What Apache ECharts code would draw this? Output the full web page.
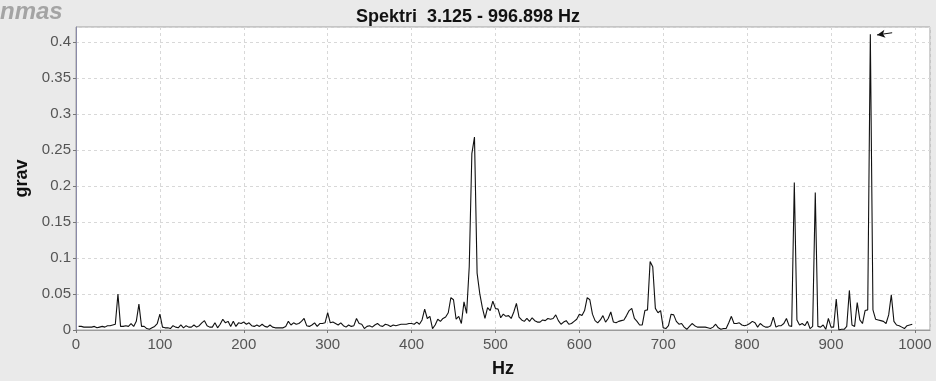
<!DOCTYPE html>
<html>
<head>
<meta charset="utf-8">
<script src="https://cdn.jsdelivr.net/npm/echarts@6/dist/echarts.min.js"></script>
<style>
  html, body { margin: 0; padding: 0; background: #eaeaea; }
  #myChart { width: 936px; height: 381px; }
</style>
</head>
<body>
<div id="myChart"></div>
<script>
// spectrum, 3.125 Hz step
const step = 3.125;
const band0to250 = [
  0.005, 0.005, 0.004, 0.004, 0.004, 0.004, 0.005, 0.003, 0.004, 0.005, 0.004, 0.006, 0.006, 0.007, 0.008, 0.050,
  0.005, 0.005, 0.006, 0.005, 0.009, 0.005, 0.012, 0.036, 0.005, 0.005, 0.002, 0.001, 0.003, 0.005, 0.009, 0.022,
  0.004, 0.003, 0.003, 0.002, 0.006, 0.004, 0.003, 0.007, 0.003, 0.006, 0.004, 0.004, 0.007, 0.004, 0.006, 0.010,
  0.013, 0.006, 0.004, 0.004, 0.010, 0.003, 0.008, 0.015, 0.010, 0.012, 0.005, 0.012, 0.005, 0.010, 0.009, 0.011,
  0.008, 0.010, 0.006, 0.005, 0.007, 0.005, 0.008, 0.005, 0.004, 0.007, 0.004, 0.003, 0.003, 0.003, 0.003, 0.005
];
const band250to500 = [
  0.012, 0.007, 0.010, 0.008, 0.009, 0.012, 0.016, 0.006, 0.005, 0.007, 0.010, 0.005, 0.009, 0.009, 0.010, 0.024,
  0.010, 0.011, 0.009, 0.007, 0.010, 0.006, 0.004, 0.007, 0.005, 0.006, 0.016, 0.009, 0.008, 0.002, 0.005, 0.006,
  0.004, 0.007, 0.009, 0.006, 0.005, 0.008, 0.007, 0.005, 0.007, 0.006, 0.007, 0.008, 0.008, 0.008, 0.009, 0.009,
  0.008, 0.011, 0.008, 0.014, 0.029, 0.016, 0.019, 0.002, 0.007, 0.015, 0.012, 0.016, 0.018, 0.024, 0.045, 0.042,
  0.015, 0.019, 0.009, 0.039, 0.023, 0.088, 0.245, 0.268, 0.079, 0.051, 0.031, 0.016, 0.031, 0.027, 0.040, 0.030
];
const band500to750 = [
  0.029, 0.017, 0.022, 0.019, 0.020, 0.016, 0.025, 0.037, 0.018, 0.014, 0.012, 0.016, 0.012, 0.017, 0.013, 0.011,
  0.011, 0.014, 0.013, 0.016, 0.015, 0.016, 0.021, 0.013, 0.008, 0.011, 0.013, 0.008, 0.009, 0.012, 0.015, 0.022,
  0.020, 0.027, 0.045, 0.042, 0.022, 0.013, 0.010, 0.014, 0.020, 0.011, 0.016, 0.025, 0.011, 0.010, 0.012, 0.013,
  0.014, 0.020, 0.027, 0.030, 0.016, 0.012, 0.007, 0.007, 0.027, 0.028, 0.095, 0.088, 0.030, 0.024, 0.027, 0.003,
  0.002, 0.006, 0.022, 0.021, 0.012, 0.008, 0.009, 0.004, 0.001, 0.005, 0.009, 0.006, 0.004, 0.004, 0.004, 0.004
];
const band750to997 = [
  0.003, 0.002, 0.004, 0.008, 0.003, 0.001, 0.002, 0.002, 0.010, 0.019, 0.009, 0.009, 0.010, 0.007, 0.006, 0.007,
  0.009, 0.012, 0.010, 0.004, 0.009, 0.006, 0.004, 0.004, 0.006, 0.018, 0.004, 0.006, 0.006, 0.009, 0.016, 0.006,
  0.005, 0.205, 0.014, 0.007, 0.009, 0.006, 0.012, 0.002, 0.005, 0.191, 0.005, 0.004, 0.007, 0.001, 0.016, 0.004,
  0.004, 0.043, 0.000, 0.001, 0.001, 0.005, 0.055, 0.007, 0.005, 0.038, 0.014, 0.009, 0.027, 0.028, 0.411, 0.028,
  0.015, 0.014, 0.013, 0.012, 0.009, 0.021, 0.049, 0.012, 0.007, 0.006, 0.004, 0.002, 0.006, 0.007, 0.008
];
const xTicks = [0, 100, 200, 300, 400, 500, 600, 700, 800, 900, 1000];
const yTicks = [0, 0.05, 0.1, 0.15, 0.2, 0.25, 0.3, 0.35, 0.4];
const peak = [946.875, 0.411];

const values = [].concat(band0to250, band250to500, band500to750, band750to997);
const points = values.map((v, i) => [(i + 1) * step, v]);

const font = '"Liberation Sans", Arial, sans-serif';

const myChart = echarts.init(document.getElementById('myChart'));
myChart.setOption({
  animation: false,
  backgroundColor: '#eaeaea',
  title: {
    text: 'Spektri  3.125 - 996.898 Hz',
    left: 'center',
    top: 3,
    textStyle: { fontFamily: font, fontWeight: 'bold', fontSize: 18, color: '#111' }
  },
  graphic: [
    {
      type: 'text',
      left: 0,
      top: 0,
      style: { text: 'nmas', font: 'italic bold 24px ' + font, fill: '#a4a4a4' }
    }
  ],
  grid: {
    left: 76,
    right: 6,
    top: 27,
    bottom: 51,
    containLabel: false,
    outerBoundsMode: 'none',
    show: true,
    backgroundColor: '#fff',
    borderColor: '#a0a0a0',
    borderWidth: 1
  },
  xAxis: {
    type: 'value',
    min: 0,
    max: 1018,
    interval: 100,
    name: 'Hz',
    nameLocation: 'middle',
    nameGap: 30,
    nameTextStyle: { fontFamily: font, fontWeight: 'bold', fontSize: 18, color: '#111' },
    axisLine: { show: true, onZero: false, lineStyle: { color: '#9a9a9a' } },
    axisTick: { show: true, length: 3, lineStyle: { color: '#777' } },
    axisLabel: {
      showMaxLabel: false,
      margin: 7,
      fontFamily: font,
      fontSize: 15,
      color: '#555',
      formatter: v => (xTicks.includes(v) ? String(v) : '')
    },
    splitLine: { show: true, lineStyle: { color: '#d8d8d8', type: [3, 3] } }
  },
  yAxis: {
    type: 'value',
    min: 0,
    max: 0.421,
    interval: 0.05,
    name: 'grav',
    nameLocation: 'middle',
    nameGap: 42,
    nameTextStyle: { fontFamily: font, fontWeight: 'bold', fontSize: 18, color: '#111' },
    axisLine: { show: true, lineStyle: { color: '#8a8aa8' } },
    axisTick: { show: true, length: 3, lineStyle: { color: '#777' } },
    axisLabel: {
      showMaxLabel: false,
      margin: 5,
      fontFamily: font,
      fontSize: 15,
      color: '#555',
      formatter: v => {
        const t = yTicks.find(y => Math.abs(y - v) < 1e-9);
        return t === undefined ? '' : String(t);
      }
    },
    splitLine: { show: true, lineStyle: { color: '#d8d8d8', type: [3, 3] } }
  },
  series: [
    {
      type: 'line',
      data: points,
      symbol: 'none',
      lineStyle: { color: '#111', width: 1.1 },
      markLine: {
        silent: true,
        symbol: ['arrow', 'none'],
        symbolSize: [6, 8],
        label: { show: false },
        lineStyle: { color: '#111', width: 1, type: 'solid' },
        data: [[
          { coord: [peak[0] + 8, peak[1] - 0.001] },
          { coord: [peak[0] + 26, peak[1] + 0.002] }
        ]]
      }
    }
  ]
});
</script>
</body>
</html>
